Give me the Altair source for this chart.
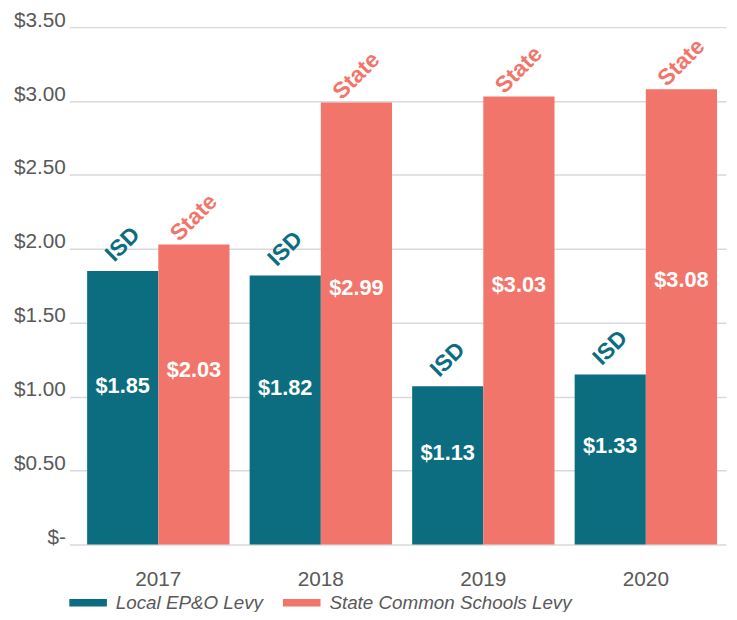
import altair as alt
import pandas as pd

# ---- data ----
years = ["2017", "2018", "2019", "2020"]
series = ["Local EP&O Levy", "State Common Schools Levy"]
isd_values = [1.85, 1.82, 1.07, 1.15]          # bar heights as drawn
state_values = [2.03, 2.99, 3.03, 3.08]
isd_labels = ["$1.85", "$1.82", "$1.13", "$1.33"]  # printed labels
state_labels = ["$2.03", "$2.99", "$3.03", "$3.08"]
tags = ["ISD", "State"]
y_ticks = [0, 0.5, 1.0, 1.5, 2.0, 2.5, 3.0, 3.5]

rows = []
for i, yr in enumerate(years):
    rows.append(dict(year=yr, series=series[0], value=isd_values[i], label=isd_labels[i], tag=tags[0]))
    rows.append(dict(year=yr, series=series[1], value=state_values[i], label=state_labels[i], tag=tags[1]))
df = pd.DataFrame(rows)

TEAL = "#0b6d7f"
SALMON = "#f2756b"
GRAY = "#595959"
SANS = "Liberation Sans, Arial, sans-serif"
color_scale = alt.Scale(domain=series, range=[TEAL, SALMON])

base = alt.Chart(df).encode(
    x=alt.X(
        "year:N",
        sort=years,
        scale=alt.Scale(paddingInner=0.124, paddingOuter=0.0826, align=0.664),
        axis=alt.Axis(title=None, labelAngle=0, ticks=False, domain=False,
                      labelPadding=25, labelFontSize=21, labelColor=GRAY,
                      labelFont=SANS),
    ),
    xOffset=alt.XOffset("series:N", sort=series,
                        scale=alt.Scale(domain=series, paddingInner=0, paddingOuter=0)),
)

y_scale = alt.Scale(domain=[0, 3.5], nice=False)

bars = base.mark_bar().encode(
    y=alt.Y(
        "value:Q",
        scale=y_scale,
        axis=alt.Axis(
            title=None, values=y_ticks, ticks=False, domain=False,
            labelExpr="datum.value == 0 ? '$-\u00a0\u00a0\u00a0' : '$' + format(datum.value, '.2f')",
            labelFont=SANS, labelFontSize=21, labelColor=GRAY,
            labelPadding=4, labelOffset=-7,
            gridColor="#d9d9d9", gridWidth=1.5,
        ),
    ),
    color=alt.Color(
        "series:N", scale=color_scale,
        legend=alt.Legend(
            title=None, orient="none", legendX=0, legendY=563,
            direction="horizontal",
            symbolType="M-1,-0.2H1V0.2H-1Z", symbolSize=1444,
            symbolStrokeWidth=0, symbolOpacity=1,
            labelFont=SANS, labelFontStyle="italic", labelFontSize=19,
            labelColor=GRAY, labelOffset=9, labelLimit=500,
            columnPadding=20, padding=0,
        ),
    ),
)

values = base.mark_text(
    font=SANS, fontWeight="bold", fontSize=22, color="white", baseline="middle"
).transform_calculate(ly="datum.value * 0.58").encode(
    y=alt.Y("ly:Q", scale=y_scale),
    text="label:N",
)

tag_text = base.mark_text(
    font=SANS, fontWeight="bold", fontSize=23,
    angle=315, dx=19, dy=-19, baseline="middle", align="center"
).encode(
    y=alt.Y("value:Q", scale=y_scale),
    text="tag:N",
    color=alt.Color("series:N", scale=color_scale, legend=None),
)

chart = alt.layer(bars, values, tag_text).properties(
    width=664, height=523,
    autosize=alt.AutoSizeParams(type="none"),
    padding={"left": 62, "top": 16, "right": 3, "bottom": 65},
).configure_view(stroke=None)

chart.save("out.html", embed_options={"renderer": "svg", "actions": False})
